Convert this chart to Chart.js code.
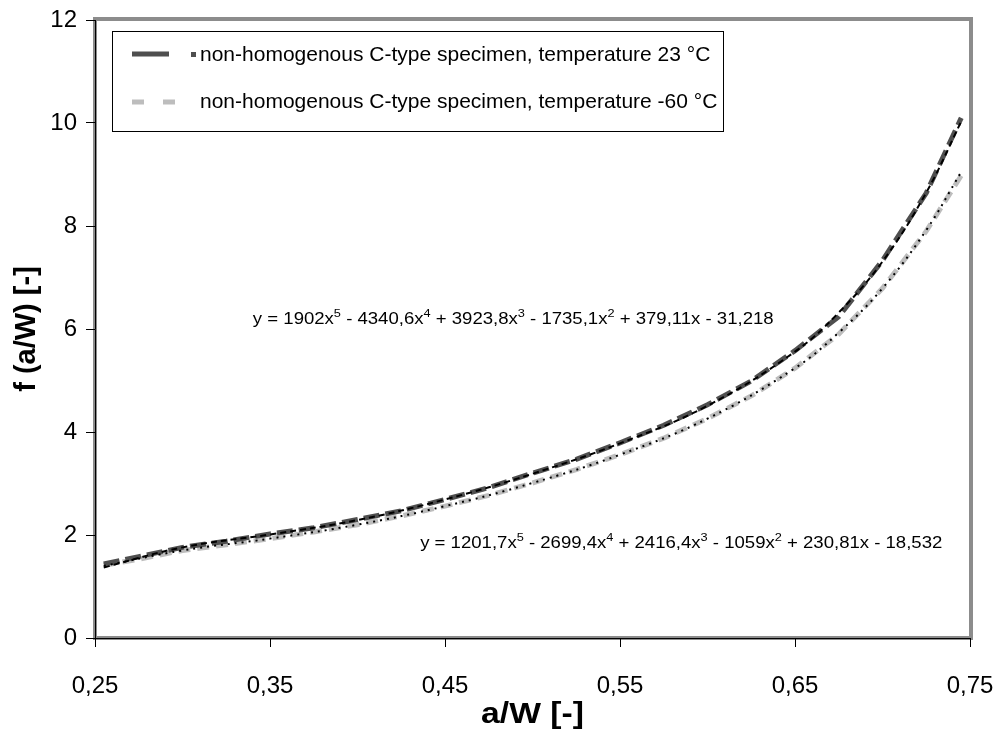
<!DOCTYPE html>
<html lang="en">
<head>
    <meta charset="UTF-8">
    <title>f(a/W) vs a/W</title>
    <script src="https://cdn.jsdelivr.net/npm/chart.js"></script>
    <style>
        html, body { margin: 0; padding: 0; background: #fff; }
    </style>
</head>
<body>
    <canvas id="fChart" width="997" height="731"></canvas>

    <script>
        // a/W positions of the measured points
        const aW = [0.255, 0.275, 0.30, 0.325, 0.35, 0.375, 0.40, 0.425, 0.45, 0.475, 0.50,
                    0.525, 0.55, 0.575, 0.60, 0.625, 0.65, 0.675, 0.70, 0.725, 0.745];
        // f(a/W), specimen at 23 °C
        const f23 = [1.44, 1.58, 1.76, 1.88, 2.02, 2.14, 2.30, 2.47, 2.69, 2.92, 3.20,
                     3.47, 3.79, 4.13, 4.53, 4.99, 5.58, 6.24, 7.33, 8.64, 10.1];
        // f(a/W), specimen at -60 °C
        const fMinus60 = [1.41, 1.53, 1.70, 1.81, 1.93, 2.06, 2.20, 2.37, 2.56, 2.77, 3.01,
                          3.27, 3.56, 3.88, 4.26, 4.70, 5.24, 5.90, 6.79, 7.90, 8.98];

        // polynomial trend lines (dotted, black), sampled along the curve
        const trendX = [0.255, 0.30, 0.35, 0.40, 0.45, 0.50, 0.55, 0.60, 0.65, 0.675, 0.70, 0.725, 0.745];
        const trend23 = [1.37, 1.76, 2.01, 2.29, 2.69, 3.19, 3.78, 4.51, 5.56, 6.32, 7.31, 8.65, 10.03];
        const trendMinus60 = [1.40, 1.70, 1.93, 2.20, 2.56, 3.01, 3.56, 4.26, 5.24, 5.93, 6.79, 7.92, 9.05];

        const xTicks = [0.25, 0.35, 0.45, 0.55, 0.65, 0.75];
        const yTicks = [0, 2, 4, 6, 8, 10, 12];

        const seriesNames = [
            'non-homogenous C-type specimen, temperature 23 °C',
            'non-homogenous C-type specimen, temperature -60 °C'
        ];
        const equations = [
            { text: 'y = 1902x^5 - 4340,6x^4 + 3923,8x^3 - 1735,1x^2 + 379,11x - 31,218', a: 0.489, f: 6.10 },
            { text: 'y = 1201,7x^5 - 2699,4x^4 + 2416,4x^3 - 1059x^2 + 230,81x - 18,532', a: 0.585, f: 1.75 }
        ];

        const FONT = "'Liberation Sans', Arial, sans-serif";
        const DARK = '#4f4f4f';
        const LIGHT = '#bdbdbd';
        const STRETCH = 1.16; // the original text is a bit wider than plain Arial

        const toPoints = (xs, ys) => xs.map((x, i) => ({ x: x, y: ys[i] }));

        // grey plot frame, drawn before the axes so the black axis lines sit on top
        const framePlugin = {
            id: 'frame',
            beforeDraw(chart) {
                const { ctx, chartArea: a } = chart;
                ctx.save();
                ctx.strokeStyle = '#8c8c8c';
                ctx.lineWidth = 4;
                ctx.strokeRect(a.left, a.top - 1, a.right - a.left + 1, a.bottom - a.top + 1);
                ctx.restore();
            }
        };

        // text drawn a little wider than the font, centred on cx
        function wideText(ctx, text, cx, y, font) {
            ctx.font = font;
            const w = ctx.measureText(text).width;
            ctx.save();
            ctx.translate(cx, y);
            ctx.scale(STRETCH, 1);
            ctx.fillText(text, -w / 2, 0);
            ctx.restore();
        }

        // legend box, x title and the two trend line equations
        const notesPlugin = {
            id: 'notes',
            afterDraw(chart) {
                const ctx = chart.ctx;
                const xs = chart.scales.x, ys = chart.scales.y;
                ctx.save();

                // legend
                ctx.fillStyle = '#fff';
                ctx.fillRect(112, 31, 612, 101);
                ctx.strokeStyle = '#000';
                ctx.lineWidth = 1;
                ctx.strokeRect(112.5, 31.5, 611, 100);

                ctx.lineWidth = 5;
                ctx.strokeStyle = DARK;
                ctx.beginPath();
                ctx.moveTo(132, 54); ctx.lineTo(169, 54);
                ctx.stroke();
                ctx.fillStyle = DARK;
                ctx.fillRect(191, 52, 5, 5);

                ctx.strokeStyle = LIGHT;
                ctx.beginPath();
                ctx.moveTo(132, 102); ctx.lineTo(144, 102);
                ctx.moveTo(163, 102); ctx.lineTo(175, 102);
                ctx.stroke();

                ctx.fillStyle = '#000';
                ctx.font = '21px ' + FONT;
                ctx.textBaseline = 'middle';
                ctx.fillText(seriesNames[0], 200, 55);
                ctx.fillText(seriesNames[1], 200, 102);

                // x axis title
                ctx.textBaseline = 'alphabetic';
                wideText(ctx, 'a/W [-]', (xs.left + xs.right) / 2, 723, 'bold 29px ' + FONT);

                // equations with superscript powers, centred on (a, f)
                equations.forEach(eq => {
                    const parts = eq.text.split(/\^(\d)/);
                    const fontOf = i => (i % 2 ? '11px ' : '16px ') + FONT;
                    let total = 0;
                    parts.forEach((p, i) => { ctx.font = fontOf(i); total += ctx.measureText(p).width; });
                    ctx.save();
                    ctx.translate(xs.getPixelForValue(eq.a), ys.getPixelForValue(eq.f));
                    ctx.scale(STRETCH, 1);
                    let x = -total / 2;
                    parts.forEach((p, i) => {
                        ctx.font = fontOf(i);
                        ctx.fillText(p, x, i % 2 ? -7 : 0);
                        x += ctx.measureText(p).width;
                    });
                    ctx.restore();
                });
                ctx.restore();
            }
        };

        const ctx = document.getElementById('fChart').getContext('2d');

        new Chart(ctx, {
            type: 'scatter',
            data: {
                datasets: [
                    {
                        label: seriesNames[0],
                        data: toPoints(aW, f23),
                        showLine: true,
                        borderColor: DARK,
                        borderWidth: 5,
                        borderDash: [16, 6],
                        pointRadius: 0,
                        order: 3
                    },
                    {
                        label: seriesNames[1],
                        data: toPoints(aW, fMinus60),
                        showLine: true,
                        borderColor: LIGHT,
                        borderWidth: 5,
                        borderDash: [12, 7],
                        pointRadius: 0,
                        order: 4
                    },
                    {
                        label: 'trend 23',
                        data: toPoints(trendX, trend23),
                        showLine: true,
                        borderColor: '#000',
                        borderWidth: 2,
                        borderDash: [6, 4],
                        tension: 0.4,
                        pointRadius: 0,
                        order: 1
                    },
                    {
                        label: 'trend -60',
                        data: toPoints(trendX, trendMinus60),
                        showLine: true,
                        borderColor: '#000',
                        borderWidth: 2,
                        borderDash: [2, 5],
                        tension: 0.4,
                        pointRadius: 0,
                        order: 2
                    }
                ]
            },
            options: {
                responsive: false,
                animation: false,
                layout: { autoPadding: false, padding: { top: 20, right: 27, left: 0, bottom: 0 } },
                plugins: {
                    legend: { display: false },
                    tooltip: { enabled: false }
                },
                scales: {
                    x: {
                        type: 'linear',
                        min: 0.25,
                        max: 0.75,
                        afterBuildTicks: s => { s.ticks = xTicks.map(v => ({ value: v })); },
                        afterFit: s => { s.height = 93; s.paddingLeft = 0; s.paddingRight = 0; },
                        grid: { drawOnChartArea: false, drawTicks: true, tickLength: 9, color: '#000' },
                        border: { display: true, color: '#000', width: 1 },
                        ticks: {
                            color: '#000',
                            padding: 25,
                            maxRotation: 0,
                            autoSkip: false,
                            font: { family: FONT, size: 24 },
                            callback: v => v.toFixed(2).replace('.', ',')
                        }
                    },
                    y: {
                        min: 0,
                        max: 12,
                        afterBuildTicks: s => { s.ticks = yTicks.map(v => ({ value: v })); },
                        afterFit: s => { s.width = 95; s.paddingTop = 0; s.paddingBottom = 0; },
                        grid: { drawOnChartArea: false, drawTicks: true, tickLength: 9, color: '#000' },
                        border: { display: true, color: '#000', width: 1 },
                        ticks: {
                            color: '#000',
                            padding: 9,
                            font: { family: FONT, size: 24 }
                        },
                        title: {
                            display: true,
                            text: 'f (a/W) [-]',
                            color: '#000',
                            padding: { top: 10, bottom: 0 },
                            font: { family: FONT, size: 29, weight: 'bold' }
                        }
                    }
                }
            },
            plugins: [framePlugin, notesPlugin]
        });
    </script>
</body>
</html>
